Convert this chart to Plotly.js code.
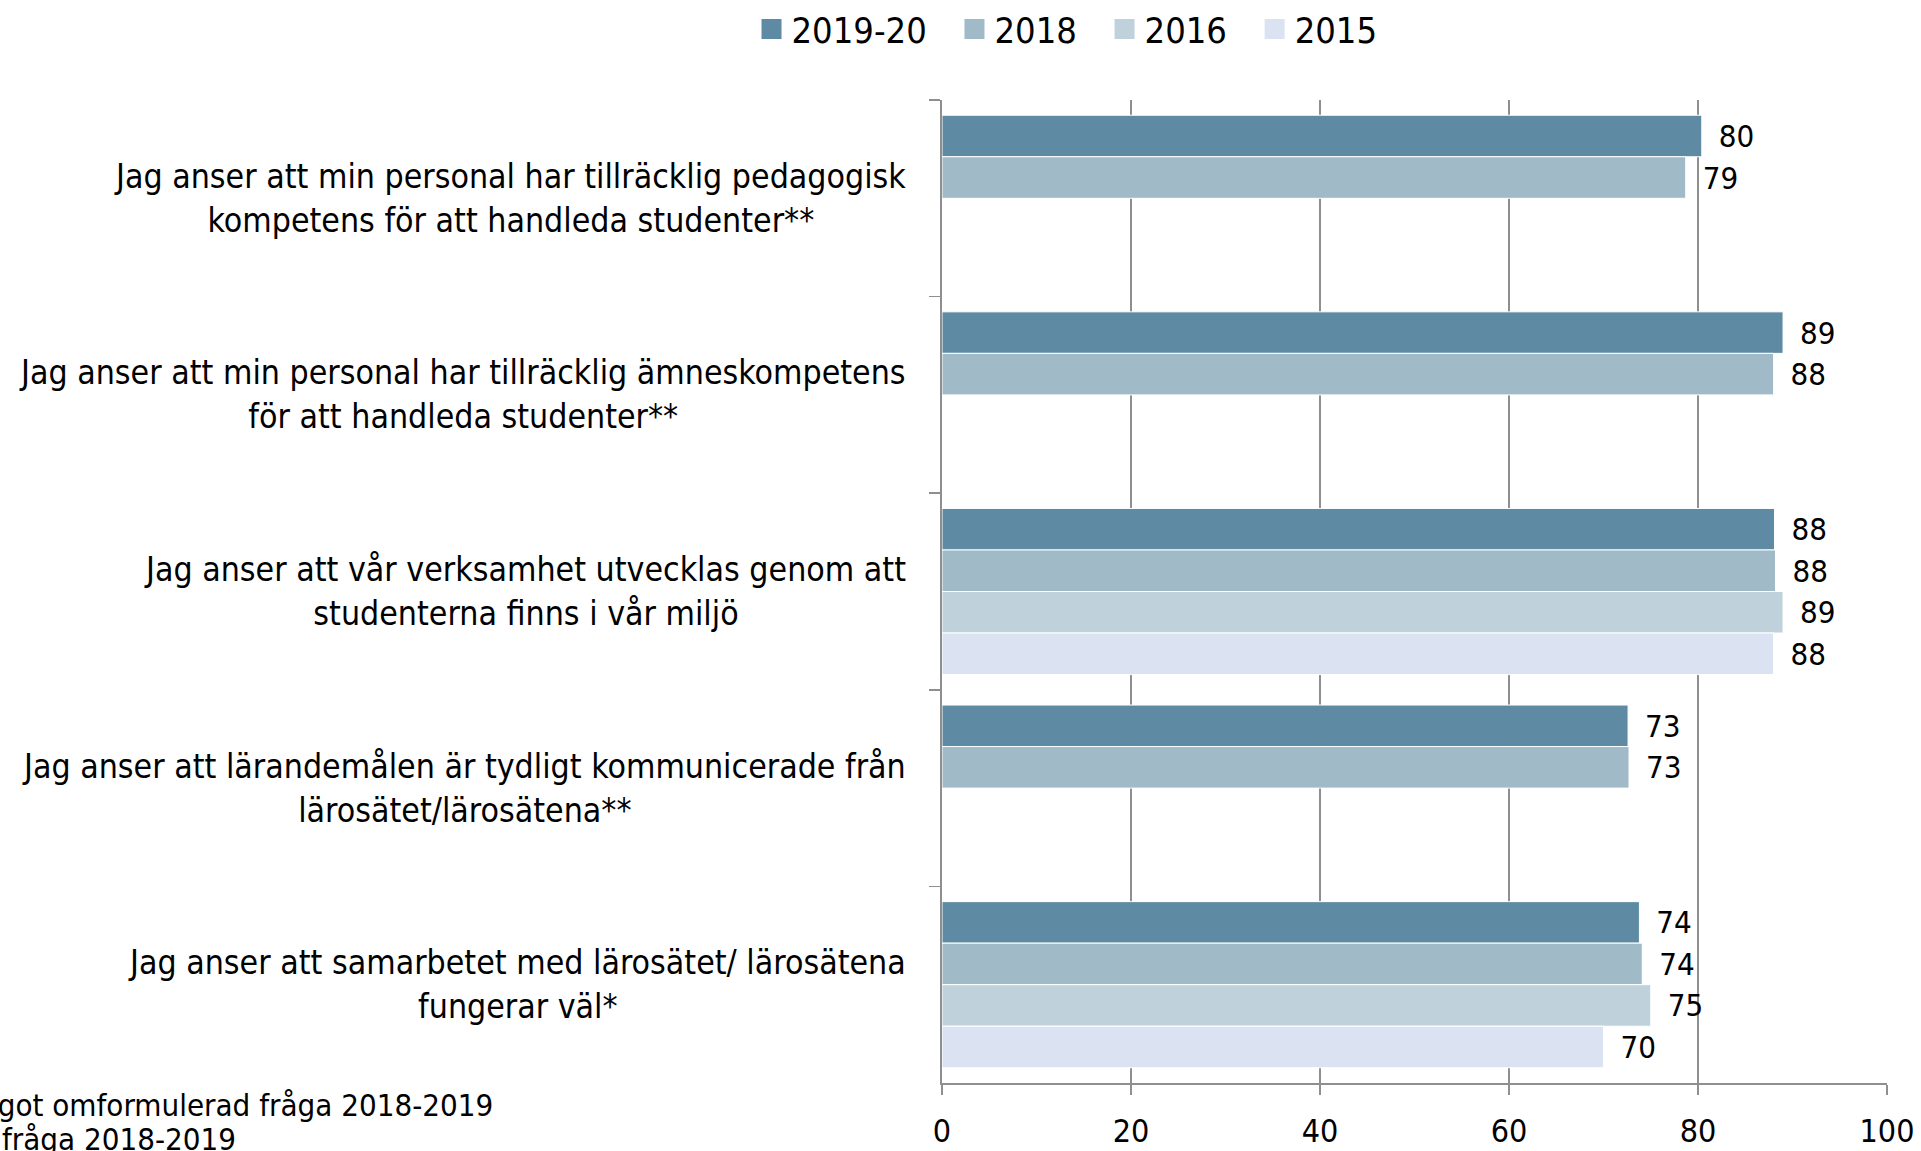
<!DOCTYPE html>
<html>
<head>
<meta charset="utf-8">
<script src="https://cdn.plot.ly/plotly-3.0.1.min.js"></script>
<style>
  html, body { margin: 0; padding: 0; background: #ffffff; }
  #chart { width: 1921px; height: 1151px; }
</style>
</head>
<body>
<div id="chart"></div>
<script>
// ---- Data ----
const categories = [
  "Jag anser att min personal har tillräcklig pedagogisk<br>kompetens för att handleda studenter**",
  "Jag anser att min personal har tillräcklig ämneskompetens<br>för att handleda studenter**",
  "Jag anser att vår verksamhet utvecklas genom att<br>studenterna finns i vår miljö",
  "Jag anser att lärandemålen är tydligt kommunicerade från<br>lärosätet/lärosätena**",
  "Jag anser att samarbetet med lärosätet/ lärosätena<br>fungerar väl*"
];
const seriesNames = ["2019-20", "2018", "2016", "2015"];
const values2019_20 = [80.4, 89.0, 88.1, 72.6, 73.8];
const values2018    = [78.7, 88.0, 88.2, 72.7, 74.1];
const values2016    = [null, null, 89.0, null, 75.0];
const values2015    = [null, null, 88.0, null, 70.0];
const xTickValues = [0, 20, 40, 60, 80, 100];
const footnotes = ["* Något omformulerad fråga 2018-2019", "** Ny fråga 2018-2019"];

// ---- Style ----
const colors = ["#5e8ba3", "#a0bac8", "#bfd1db", "#dbe3f3"];
const FONT = "'DejaVu Sans Condensed', 'DejaVu Sans', 'Liberation Sans', sans-serif";
const GRID = "#8f8f8f";

const allValues = [values2019_20, values2018, values2016, values2015];

const traces = [];
allValues.forEach((vals, i) => {
  traces.push({
    type: "bar",
    orientation: "h",
    name: seriesNames[i],
    x: vals,
    y: categories,
    marker: { color: colors[i], line: { color: "#ffffff", width: 1 } },
    texttemplate: "\u2002%{x:.0f}",
    textposition: "outside",
    constraintext: "none",
    cliponaxis: false,
    textfont: { family: FONT, size: 31, color: "#000000" },
    showlegend: false,
    hoverinfo: "x+name"
  });
});
// legend entries (larger square swatches); spacing after each entry except the last
seriesNames.forEach((n, i) => {
  traces.push({
    type: "scatter",
    mode: "markers",
    name: i < seriesNames.length - 1 ? n + "\u2002\u2009" : n,
    x: [null],
    y: [null],
    marker: { symbol: "square", size: 16, color: colors[i], line: { color: colors[i], width: 4 } },
    showlegend: true,
    hoverinfo: "skip"
  });
});

const annotations = categories.map(c => ({
  xref: "paper", yref: "y",
  x: 0, y: c,
  xanchor: "right", yanchor: "middle",
  xshift: -34,
  align: "center",
  text: c,
  showarrow: false,
  font: { family: FONT, size: 33.6, color: "#000000" }
}));
annotations.push({
  xref: "paper", yref: "paper",
  x: (495 - 942) / 945, y: (1083 - 1105) / 983,
  xanchor: "right", yanchor: "middle",
  text: footnotes[0], showarrow: false, align: "left",
  font: { family: FONT, size: 31, color: "#000000" }
});
annotations.push({
  xref: "paper", yref: "paper",
  x: (238 - 942) / 945, y: (1083 - 1139) / 983,
  xanchor: "right", yanchor: "middle",
  text: footnotes[1], showarrow: false, align: "left",
  font: { family: FONT, size: 31, color: "#000000" }
});

const layout = {
  width: 1921,
  height: 1151,
  paper_bgcolor: "#ffffff",
  plot_bgcolor: "#ffffff",
  margin: { l: 942, r: 34, t: 100, b: 68, pad: 0, autoexpand: false },
  barmode: "group",
  bargap: 0.155,
  bargroupgap: 0.0,
  font: { family: FONT, color: "#000000" },
  xaxis: {
    range: [0, 100],
    tickvals: xTickValues,
    ticktext: xTickValues.map(String),
    showgrid: true,
    gridcolor: GRID,
    gridwidth: 1.5,
    zeroline: false,
    showline: true,
    linecolor: GRID,
    linewidth: 2,
    ticks: "outside",
    ticklen: 10,
    tickcolor: GRID,
    tickwidth: 1.5,
    ticklabelstandoff: 9,
    tickfont: { family: FONT, size: 32, color: "#000000" },
    automargin: false,
    fixedrange: true
  },
  yaxis: {
    type: "category",
    autorange: "reversed",
    showgrid: false,
    zeroline: false,
    showline: true,
    linecolor: GRID,
    linewidth: 2,
    ticks: "outside",
    tickson: "boundaries",
    ticklen: 11,
    tickcolor: GRID,
    tickwidth: 1.5,
    showticklabels: false,
    automargin: false,
    fixedrange: true
  },
  legend: {
    orientation: "h",
    x: (1067 - 942) / 945,
    xanchor: "center",
    y: (1083 - 29) / 983,
    yanchor: "middle",
    font: { family: FONT, size: 36, color: "#000000" },
    bgcolor: "rgba(0,0,0,0)",
    itemclick: false,
    itemdoubleclick: false
  },
  annotations: annotations
};

Plotly.newPlot("chart", traces, layout, { displayModeBar: false, staticPlot: true });
</script>
</body>
</html>
